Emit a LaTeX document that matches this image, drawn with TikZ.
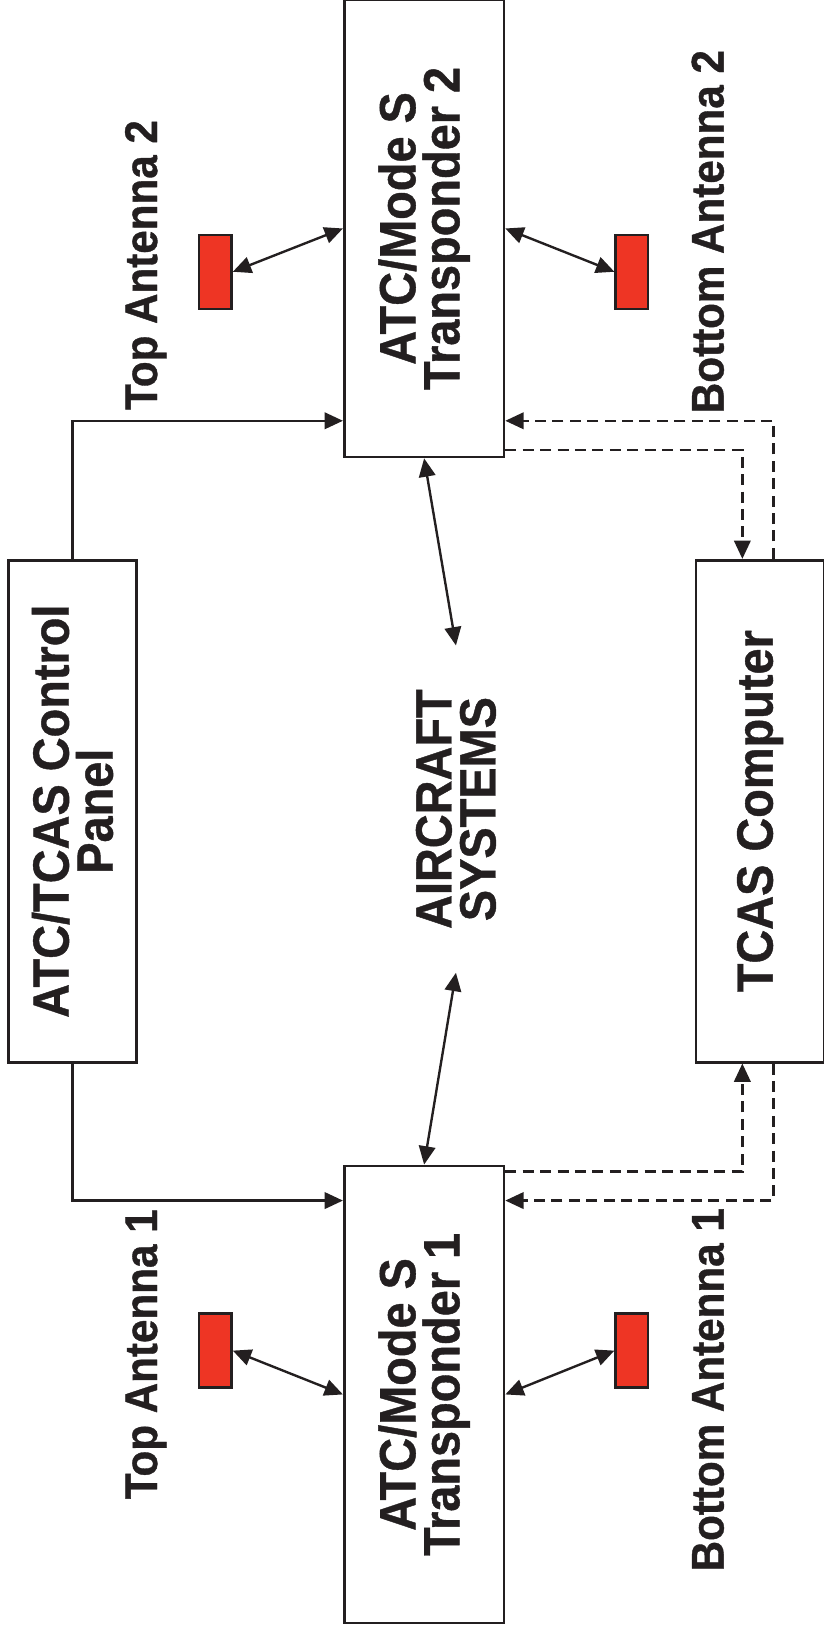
\documentclass[tikz,border=0pt]{standalone}
\usepackage{fontspec}
\setmainfont{Liberation Sans}[FakeStretch=0.92, BoldFeatures={FakeBold=0.8}]
\usetikzlibrary{arrows.meta,calc}
\definecolor{atcInk}{HTML}{231F20}
\definecolor{atcAntenna}{HTML}{EE3524}
\tikzset{
  atc/base/.style={draw=atcInk, line width=1.5pt, align=center, text=atcInk,
    font=\fontsize{27.8}{24}\selectfont\bfseries, inner sep=0pt},
  atc/unit/.style={atc/base, minimum width=8.76cm, minimum height=3.06cm},
  atc/panel/.style={atc/base, minimum width=9.62cm, minimum height=2.46cm},
  atc/antenna/.style={draw=atcInk, line width=1.3pt, fill=atcAntenna,
    minimum width=1.42cm, minimum height=0.62cm, inner sep=0pt},
  atc/label/.style={font=\fontsize{25}{26}\selectfont\bfseries,
    text=atcInk, anchor=base, inner sep=0pt},
  atc/heading/.style={font=\fontsize{27.8}{24}\selectfont\bfseries,
    text=atcInk, align=center, inner sep=0pt},
  atc/link/.style={-{Triangle[length=10pt,width=9pt]}, draw=atcInk,
    line width=1.3pt},
  atc/both/.style={atc/link,
    {Triangle[length=10pt,width=9pt]}-{Triangle[length=10pt,width=9pt]}},
  atc/bus/.style={atc/link, dash pattern=on 6pt off 3.5pt},
}

\begin{document}
\begin{tikzpicture}[rotate=90, transform shape]
\useasboundingbox (0,0) rectangle (31.36,15.78);

% ===== Transponders and panels (drawn landscape, page turned) =====
\node[atc/unit]  (tr1)   at (4.63, 7.65)  {ATC/Mode S\\Transponder 1};
\node[atc/unit]  (tr2)   at (26.98,7.65)  {ATC/Mode S\\Transponder 2};
\node[atc/panel] (panel) at (15.81,14.39) {ATC/TCAS Control\\Panel};
\node[atc/panel] (tcas)  at (15.81,1.21)  {TCAS Computer};
\node[atc/heading, minimum width=6.26cm] (sys) at (15.85,7.04) {AIRCRAFT\\SYSTEMS};

% ===== Antennas =====
\node[atc/antenna] (tant1) at (5.47, 11.65) {};
\node[atc/antenna] (bant1) at (5.47, 3.67)  {};
\node[atc/antenna] (tant2) at (26.15,11.65) {};
\node[atc/antenna] (bant2) at (26.15,3.67)  {};

\node[atc/label] (tlab1) at (5.40, 12.77) {Top Antenna 1};
\node[atc/label] (blab1) at (4.72, 1.91)  {Bottom Antenna 1};
\node[atc/label] (tlab2) at (26.28,12.77) {Top Antenna 2};
\node[atc/label] (blab2) at (26.92,1.91)  {Bottom Antenna 2};

% ===== RF links =====
\draw[atc/both] (tant1.south) -- (tr1.north);
\draw[atc/both] (tr1.south)   -- (bant1.north);
\draw[atc/both] (tant2.south) -- (tr2.north);
\draw[atc/both] (tr2.south)   -- (bant2.north);

% ===== Aircraft systems =====
\draw[atc/both] (tr1.east) -- (sys.west);
\draw[atc/both] (tr2.west) -- (sys.east);

% ===== Control panel =====
\draw[atc/link] (panel.west) -| ($(tr1.north east)+(-0.69,0)$);
\draw[atc/link] (panel.east) -| ($(tr2.north west)+(0.72,0)$);

% ===== TCAS bus =====
\draw[atc/bus] ($(tr1.south east)+(-0.13,0)$) |- ($(tcas.west)+(0,0.34)$);
\draw[atc/bus] ($(tcas.west)+(0,-0.26)$) -| ($(tr1.south east)+(-0.69,0)$);
\draw[atc/bus] ($(tr2.south west)+(0.16,0)$) |- ($(tcas.east)+(0,0.34)$);
\draw[atc/bus] ($(tcas.east)+(0,-0.26)$) -| ($(tr2.south west)+(0.72,0)$);

\end{tikzpicture}
\end{document}
